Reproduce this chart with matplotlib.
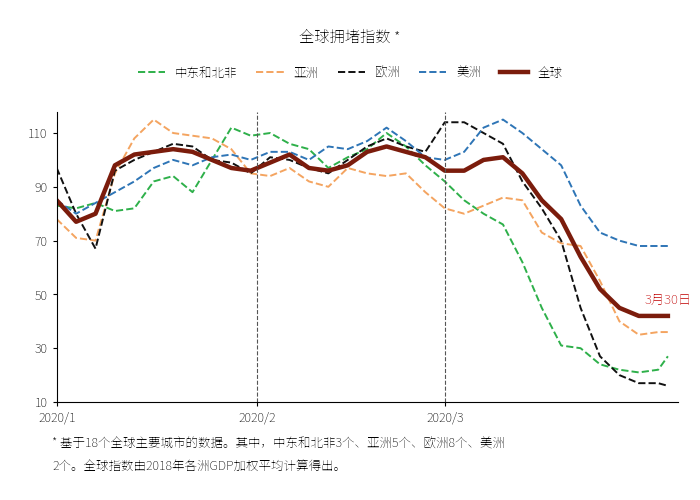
import matplotlib
matplotlib.use("Agg")
import matplotlib.pyplot as plt
from matplotlib import font_manager as fm

cjk = None
for f in fm.findSystemFonts():
    if 'NotoSansCJK' in f.replace(' ', '') or 'NotoSansSC' in f.replace(' ', ''):
        try:
            fm.fontManager.addfont(f)
            name = fm.FontProperties(fname=f).get_name()
            if cjk is None or 'SC' in name:
                cjk = name
        except Exception:
            pass
plt.rcParams['font.family'] = [cjk or 'Noto Sans CJK SC', 'DejaVu Sans']

days = [0,3,6,9,12,15,18,21,24,27,30,33,36,39,42,45,48,51,54,57,60,63,66,69,72,75,78,81,84,87,90,93,94.5]
mideast = [83,82,84,81,82,92,94,88,100,112,109,110,106,104,97,101,104,110,105,98,92,85,80,76,62,45,31,30,24,22,21,22,27]
asia = [78,71,70,95,108,115,110,109,108,104,95,94,97,92,90,97,95,94,95,88,82,80,83,86,85,73,69,68,55,40,35,36,36]
europe = [97,80,67,96,100,103,106,105,100,99,95,101,100,97,95,100,105,108,105,103,114,114,110,106,92,82,70,45,27,20,17,17,16]
americas = [85,80,84,88,92,97,100,98,101,102,100,103,103,100,105,104,107,112,107,101,100,103,112,115,110,104,98,83,73,70,68,68,68]
globalv = [85,77,80,98,102,103,104,103,100,97,96,99,102,97,96,98,103,105,103,101,96,96,100,101,95,85,78,64,52,45,42,42,42]
tick_pos = [0, 31, 60]
tick_labels = ['2020/1', '2020/2', '2020/3']
end_vals = [('67.7', 67.7, '#2e75b6'), ('41.9', 41.9, '#222222'), ('35.6', 35.6, '#f4a460'),
            ('26.9', 26.9, '#2eb04a'), ('16.0', 16.0, '#111111')]

fig = plt.figure(figsize=(7, 5), dpi=100)
ax = fig.add_axes([0.081, 0.196, 0.887, 0.581])
ax.plot(days, mideast, '--', color='#2eb04a', lw=1.4, label='中东和北非')
ax.plot(days, asia, '--', color='#f4a460', lw=1.4, label='亚洲')
ax.plot(days, europe, '--', color='#111111', lw=1.4, label='欧洲')
ax.plot(days, americas, '--', color='#2e75b6', lw=1.4, label='美洲')
ax.plot(days, globalv, '-', color='#7b1c0c', lw=3.2, label='全球')
for p in tick_pos[1:]:
    ax.axvline(p, color='#555555', ls='--', lw=0.8)
ax.set_xlim(0, 96)
ax.set_ylim(10, 118)
ax.set_yticks([10, 30, 50, 70, 90, 110])
ax.set_xticks(tick_pos)
ax.set_xticklabels(tick_labels, fontweight='bold', fontsize=9)
for t in ax.get_yticklabels():
    t.set_fontweight('bold'); t.set_fontsize(9)
for s in ['top', 'right']:
    ax.spines[s].set_visible(False)
ax.tick_params(length=3)
for txt, v, c in end_vals:
    ax.text(1.095, v, txt, color=c, fontsize=9.5, fontweight='bold', va='center', ha='right',
            transform=ax.get_yaxis_transform(), clip_on=False)
ax.text(94.5, 48, '3月30日', color='#c00000', fontsize=9.5, fontweight='bold', ha='center', va='center')
fig.text(0.5, 0.924, '全球拥堵指数 *', ha='center', va='center', fontsize=11, fontweight='bold')
fig.legend(loc='center', bbox_to_anchor=(0.5, 0.854), ncol=5, frameon=False, fontsize=9,
           handlelength=2.2, columnspacing=1.5)
fig.text(0.075, 0.104, '* 基于18个全球主要城市的数据。其中，中东和北非3个、亚洲5个、欧洲8个、美洲', fontsize=9)
fig.text(0.075, 0.060, '2个。全球指数由2018年各洲GDP加权平均计算得出。', fontsize=9)
fig.savefig('out.png', dpi=100)
